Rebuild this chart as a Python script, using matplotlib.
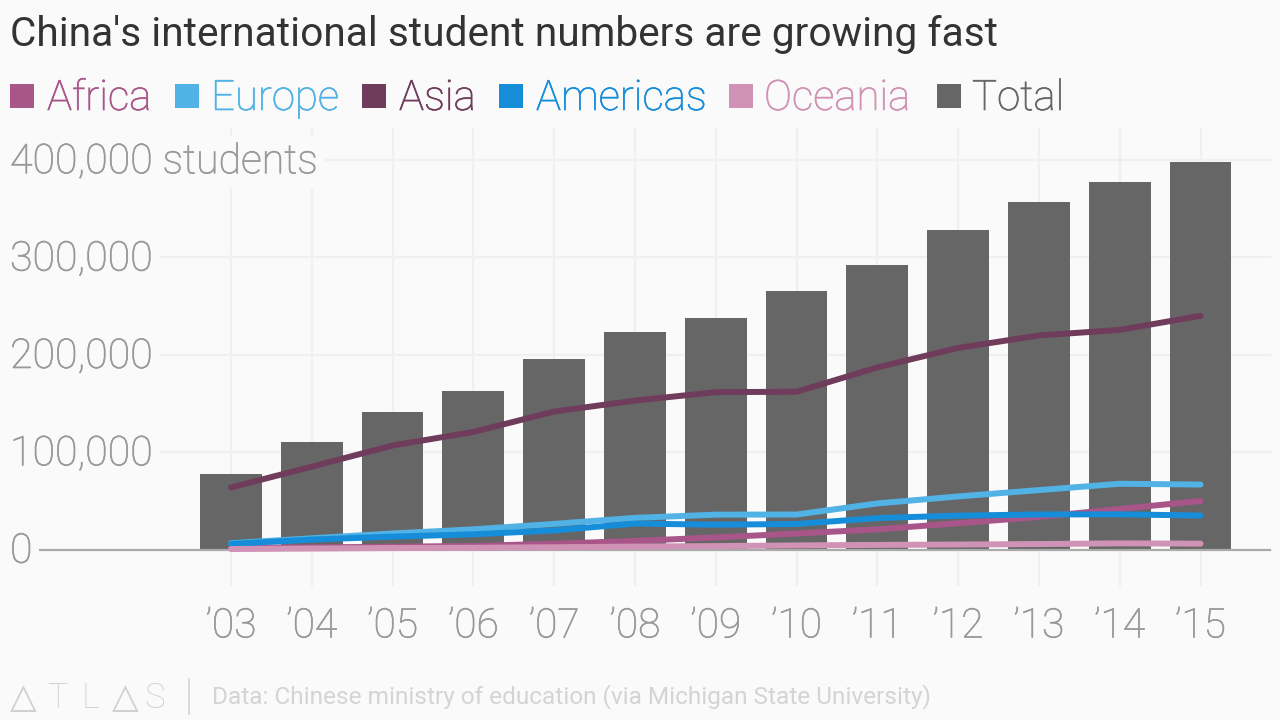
import matplotlib
matplotlib.use('Agg')
import matplotlib.pyplot as plt
import matplotlib.patheffects as pe
from matplotlib.patches import Rectangle
from matplotlib.lines import Line2D

years = [2003, 2004, 2005, 2006, 2007, 2008, 2009, 2010, 2011, 2012, 2013, 2014, 2015]
year_labels = ["’03", "’04", "’05", "’06", "’07", "’08", "’09", "’10", "’11", "’12", "’13", "’14", "’15"]
y_ticks = [0, 100000, 200000, 300000, 400000]

total = [77700, 110800, 141100, 162700, 195500, 223500, 238200, 265100, 292600, 328300, 356500, 377100, 397600]
asia = [63700, 85100, 106800, 120700, 141700, 152900, 161600, 162000, 187000, 207000, 219800, 225500, 240000]
europe = [6500, 11500, 16500, 20700, 26300, 32500, 35800, 35900, 47300, 54500, 61000, 67500, 66700]
americas = [5700, 10200, 13200, 15600, 19600, 26600, 25500, 26200, 32300, 34800, 36000, 36100, 34900]
africa = [1800, 2200, 2800, 3700, 5900, 8800, 12400, 16400, 20700, 27000, 33400, 41700, 49800]
oceania = [500, 1000, 1500, 1800, 2300, 3000, 3500, 4200, 4700, 5100, 5600, 6300, 6000]

BG = '#fafafa'
C_AFRICA = '#a8558a'
C_EUROPE = '#51b2e5'
C_ASIA = '#703c5c'
C_AMERICAS = '#168dd9'
C_OCEANIA = '#d093b5'
C_TOTAL = '#666666'
FONT = 'Roboto'

W, H = 1280, 720
fig = plt.figure(figsize=(12.8, 7.2), dpi=100, facecolor=BG)
ax = fig.add_axes([0, 0, 1, 1], facecolor=BG)

# axes fill the figure, limits set so the years and values land on the right pixels
px_per_year = (1200.5 - 231) / 12
px_per_val = (549.5 - 160) / 400000
ax.set_xlim(2003 - 231 / px_per_year, 2003 + (W - 231) / px_per_year)
ax.set_ylim(-(H - 549.5) / px_per_val, 549.5 / px_per_val)
ax.axis('off')


def xpx(p):
    return p / W


def ypx(p):
    return 1 - p / H


def thicken(col):
    # light weight is a bit too thin on its own
    return [pe.withStroke(linewidth=0.45, foreground=col)]


# grid
for yr in years:
    ax.add_line(Line2D([yr, yr], [-36500, 432000], color='#f0f0f0', lw=1.6, zorder=1))
for v in y_ticks[1:]:
    ax.add_line(Line2D([ax.get_xlim()[0] + 10 / px_per_year, ax.get_xlim()[1] - 10 / px_per_year], [v, v],
                       color='#f0f0f0', lw=1.6, zorder=1))

ax.bar(years, total, width=0.765, color=C_TOTAL, zorder=2)
ax.add_line(Line2D([ax.get_xlim()[0] + 10 / px_per_year, ax.get_xlim()[1] - 10 / px_per_year], [0, 0],
                   color='#aaaaaa', lw=1.6, zorder=3))

for vals, col in [(africa, C_AFRICA), (europe, C_EUROPE), (asia, C_ASIA), (americas, C_AMERICAS), (oceania, C_OCEANIA)]:
    ax.plot(years, vals, color=col, lw=4.3, solid_capstyle='round', solid_joinstyle='round', zorder=4)

# y labels sit on top of the grid with a background patch
for v in y_ticks:
    label = f'{v:,}'
    if v == 400000:
        label += ' students'
    fig.text(xpx(10), ypx(547.5 - v * px_per_val), label, family=FONT, fontsize=29.6, color='#999999',
             weight='light', va='center_baseline', ha='left', zorder=5, path_effects=thicken('#999999'),
             bbox=dict(facecolor=BG, edgecolor='none', pad=5))

for yr, lab in zip(years, year_labels):
    ax.text(yr, -59000, lab, family=FONT, fontsize=29.3, color='#999999', weight='light',
            ha='center', va='top', zorder=5, path_effects=thicken('#999999'))

fig.text(xpx(10), ypx(46), "China's international student numbers are growing fast", family=FONT,
         fontsize=29.25, color='#333333', ha='left', va='baseline')

# legend
legend_items = [('Africa', C_AFRICA, 10, 47), ('Europe', C_EUROPE, 175, 211), ('Asia', C_ASIA, 362, 399),
                ('Americas', C_AMERICAS, 499, 536), ('Oceania', C_OCEANIA, 729, 764), ('Total', C_TOTAL, 937, 972)]
for name, col, sq_x, txt_x in legend_items:
    fig.add_artist(Rectangle((xpx(sq_x), ypx(108)), 24 / W, 24 / H, transform=fig.transFigure,
                             facecolor=col, edgecolor='none'))
    fig.text(xpx(txt_x), ypx(110), name, family=FONT, fontsize=30.2, color=col, weight='light',
             ha='left', va='baseline', path_effects=thicken(col))

# footer
for ch, x in [('△', 23), ('T', 57), ('L', 91), ('△', 125), ('S', 155)]:
    fig.text(xpx(x), ypx(708), ch, family='DejaVu Sans' if ch == '△' else FONT, fontsize=25, color='#d0d0d0',
             weight='normal' if ch == '△' else 'light', ha='center', va='baseline')
fig.add_artist(Line2D([xpx(189), xpx(189)], [ypx(679), ypx(714)], transform=fig.transFigure, color='#d4d4d4', lw=1.2))
fig.text(xpx(212), ypx(703), 'Data: Chinese ministry of education (via Michigan State University)', family=FONT,
         fontsize=17.55, color='#d4d4d4', ha='left', va='baseline')

fig.savefig('out.png', dpi=100, facecolor=BG)
